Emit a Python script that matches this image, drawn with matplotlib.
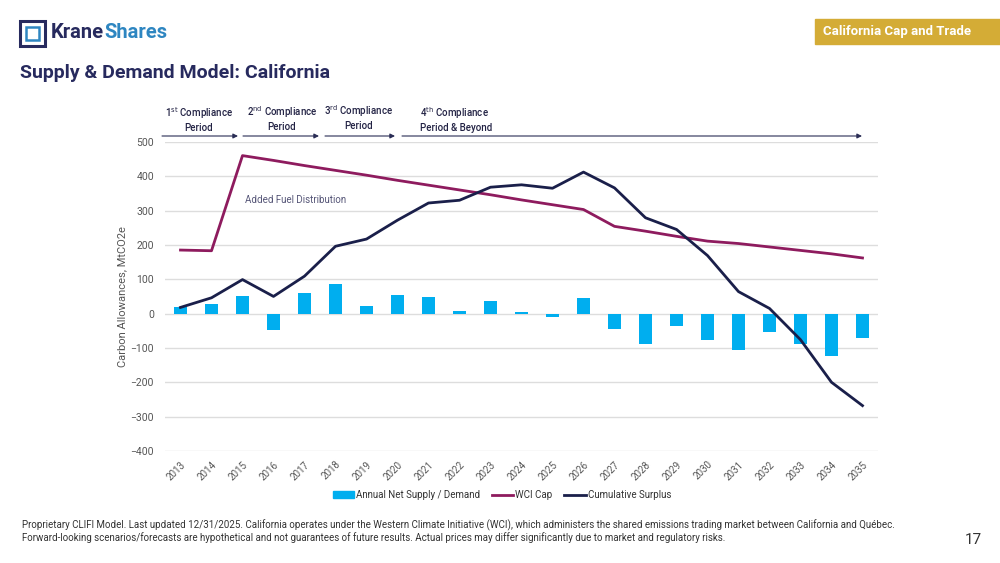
import matplotlib.pyplot as plt
import matplotlib.patches as mpatches
from matplotlib.lines import Line2D
import numpy as np

plt.rcParams['font.family'] = ['Roboto', 'DejaVu Sans']

years = [str(y) for y in range(2013, 2036)]
net_supply = [19, 27, 52, -48, 59, 86, 21, 55, 49, 8, 37, 6, -10, 44,
              -45, -88, -35, -77, -106, -53, -89, -124, -70]
wci_cap = [185, 183, 460, 446, 431, 417, 403, 388, 374, 360, 346, 331, 317, 303,
           254, 240, 225, 211, 204, 194, 184, 174, 162]
cum_surplus = [18, 46, 99, 50, 109, 196, 217, 272, 322, 330, 368, 375, 365, 412,
               366, 279, 245, 169, 64, 15, -76, -200, -268]

NAVY = '#272a5e'
BAR = '#00aeef'
CAP = '#8e1b5e'
CUM = '#1a1f4a'
GOLD = '#d4ac36'
GRAY = '#555555'

fig = plt.figure(figsize=(10, 5.63), dpi=100)
ax = fig.add_axes([0.165, 0.199, 0.713, 0.549])

x = np.arange(len(years))
ax.bar(x, net_supply, width=0.4, color=BAR, label='Annual Net Supply / Demand', zorder=2)
ax.plot(x, wci_cap, color=CAP, lw=2, label='WCI Cap', zorder=3)
ax.plot(x, cum_surplus, color=CUM, lw=2, label='Cumulative Surplus', zorder=4)

ax.set_xlim(-0.5, len(years) - 0.5)
ax.set_ylim(-400, 500)
ax.set_yticks(range(-400, 501, 100))
ax.set_xticks(x)
ax.set_xticklabels(years, rotation=45, fontsize=7, color=GRAY, ha='right',
                   rotation_mode='anchor')
ax.tick_params(axis='y', labelsize=7.5, colors=GRAY, length=0, pad=8)
ax.tick_params(axis='x', length=0, pad=6)
ax.grid(axis='y', color='#dddddd', lw=1)
ax.set_axisbelow(True)
for s in ax.spines.values():
    s.set_visible(False)
ax.set_ylabel('Carbon Allowances, MtCO2e', fontsize=8, color=GRAY, labelpad=2)

ax.text(0.112, 0.812, 'Added Fuel Distribution', transform=ax.transAxes,
        fontsize=7, color='#555577', va='center')

# compliance period arrows
arrows = [(162, 238), (243, 319), (325, 395), (402, 862)]
for x0, x1 in arrows:
    fig.add_artist(mpatches.FancyArrowPatch((x0 / 1000, 1 - 136 / 563), (x1 / 1000, 1 - 136 / 563),
                                            transform=fig.transFigure, arrowstyle='-|>',
                                            mutation_scale=7, color='#2a2d55', lw=0.8,
                                            shrinkA=0, shrinkB=0))
lab_kw = dict(fontsize=7, color='#222244', ha='center', va='center', linespacing=1.3,
              fontweight='medium')
fig.text(199 / 1000, 1 - 119 / 563, r'1$^{\mathrm{st}}$ Compliance' + '\nPeriod', **lab_kw)
fig.text(282 / 1000, 1 - 118 / 563, r'2$^{\mathrm{nd}}$ Compliance' + '\nPeriod', **lab_kw)
fig.text(359 / 1000, 1 - 117 / 563, r'3$^{\mathrm{rd}}$ Compliance' + '\nPeriod', **lab_kw)
fig.text(420 / 1000, 1 - 119 / 563, r'4$^{\mathrm{th}}$ Compliance' + '\nPeriod & Beyond',
         **{**lab_kw, 'ha': 'left'})

# legend
handles = [mpatches.Patch(color=BAR, label='Annual Net Supply / Demand'),
           Line2D([], [], color=CAP, lw=2, label='WCI Cap'),
           Line2D([], [], color=CUM, lw=2, label='Cumulative Surplus')]
fig.legend(handles=handles, loc='center', bbox_to_anchor=(0.502, 1 - 495 / 563), ncol=3,
           frameon=False, fontsize=7, handlelength=2.2, handletextpad=0.2,
           columnspacing=1.2, labelcolor='#333333')

# header
fig.add_artist(mpatches.Rectangle((20 / 1000, 1 - 46 / 563), 25 / 1000, 25 / 563,
                                  transform=fig.transFigure, fill=False,
                                  edgecolor=NAVY, lw=2.2))
fig.add_artist(mpatches.Rectangle((26 / 1000, 1 - 40 / 563), 13 / 1000, 13 / 563,
                                  transform=fig.transFigure, fill=False,
                                  edgecolor='#2e86c1', lw=1.8))
krane = fig.text(51 / 1000, 1 - 33 / 563, 'Krane', fontsize=14.5, fontweight='bold',
                 color=NAVY, va='center')
ax.annotate('Shares', xy=(1, 0.5), xycoords=krane, fontsize=14.5, fontweight='bold',
            color='#2e86c1', va='center', ha='left', annotation_clip=False)
fig.text(20 / 1000, 1 - 73 / 563, 'Supply & Demand Model: California', fontsize=14,
         fontweight='bold', color=NAVY, va='center')

fig.add_artist(mpatches.Rectangle((815 / 1000, 1 - 44 / 563), 185 / 1000, 25 / 563,
                                  transform=fig.transFigure, color=GOLD))
fig.text(897 / 1000, 1 - 32 / 563, 'California Cap and Trade', fontsize=9.5,
         fontweight='bold', color='white', ha='center', va='center')

# footnote
fig.text(22 / 1000, 1 - 525 / 563,
         'Proprietary CLIFI Model. Last updated 12/31/2025. California operates under the Western Climate '
         'Initiative (WCI), which administers the shared emissions trading market between California and Québec.',
         fontsize=7.05, color='#333333', va='center')
fig.text(22 / 1000, 1 - 538 / 563,
         'Forward-looking scenarios/forecasts are hypothetical and not guarantees of future results. '
         'Actual prices may differ significantly due to market and regulatory risks.',
         fontsize=7.05, color='#333333', va='center')
fig.text(973 / 1000, 1 - 540 / 563, '17', fontsize=11, color='#333333', ha='center', va='center')

fig.savefig('out.png', dpi=100)
